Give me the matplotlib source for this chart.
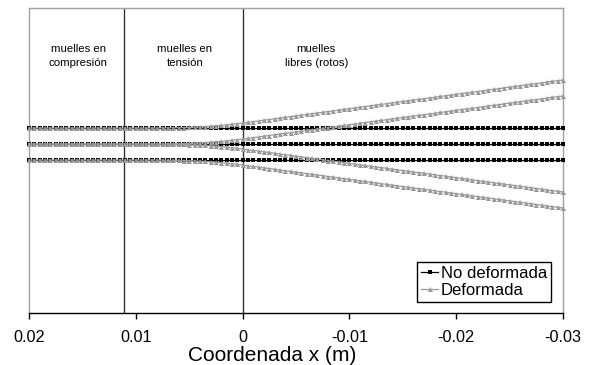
import numpy as np
import matplotlib
matplotlib.use("Agg")
import matplotlib.pyplot as plt
import matplotlib.transforms as mtransforms

plt.rcParams['font.family'] = ['Liberation Sans', 'DejaVu Sans']

# node positions along the beam (m), 0.5 mm apart
x_nodes = np.linspace(0.02, -0.03, 101)

# undeformed fibres (top, middle, bottom)
y_levels = [1.0, 0.0, -1.0]

# deflection, same units as y_levels
deflection = [
    0.00, 0.00, 0.00, 0.00, 0.00, 0.00, 0.00, 0.00, 0.00, 0.00,
    0.00, 0.00, 0.00, 0.00, 0.00, 0.00, 0.00, 0.00, 0.00, 0.00,
    0.00, 0.00, 0.00, 0.00, 0.00, 0.01, 0.01, 0.02, 0.02, 0.03,
    0.04, 0.06, 0.07, 0.09, 0.11, 0.14, 0.16, 0.19, 0.23, 0.27,
    0.31, 0.35, 0.40, 0.44, 0.49, 0.53, 0.58, 0.62, 0.67, 0.71,
    0.76, 0.80, 0.85, 0.89, 0.94, 0.98, 1.03, 1.07, 1.12, 1.16,
    1.21, 1.25, 1.30, 1.34, 1.39, 1.43, 1.48, 1.52, 1.57, 1.61,
    1.66, 1.70, 1.75, 1.79, 1.83, 1.88, 1.92, 1.97, 2.01, 2.06,
    2.10, 2.15, 2.19, 2.24, 2.28, 2.33, 2.37, 2.42, 2.46, 2.51,
    2.55, 2.60, 2.64, 2.69, 2.73, 2.78, 2.82, 2.87, 2.91, 2.96,
    3.00,
]

# deformed fibres: base level and direction (+1 up, -1 down)
deformed_base = [1.0, 0.0, 0.0, -1.0]
deformed_sign = [1, 1, -1, -1]

# zone boundaries (m) and zone labels
zone_lines = [0.0111, 0.0]
zone_text_x = [0.0154, 0.0054, -0.0069]
zone_texts = ["muelles en\ncompresión", "muelles en\ntensión", "muelles\nlibres (rotos)"]

xticks = [0.02, 0.01, 0.0, -0.01, -0.02, -0.03]
xtick_labels = ["0.02", "0.01", "0", "-0.01", "-0.02", "-0.03"]

gray = '#999999'

fig = plt.figure(figsize=(5.92, 3.65), dpi=100)
ax = fig.add_axes([29 / 592, 52 / 365, 534 / 592, 305 / 365])

d = np.array(deflection)
for i, y0 in enumerate(y_levels):
    ax.plot(x_nodes, np.full_like(x_nodes, y0), color='black', lw=0.9,
            marker='s', ms=2.7, mew=0, clip_on=False, zorder=3,
            label='No deformada' if i == 0 else None)
for i, (y0, sg) in enumerate(zip(deformed_base, deformed_sign)):
    ax.plot(x_nodes, y0 + sg * d, color=gray, lw=0.9,
            marker='^', ms=3.6, mew=0, clip_on=False, zorder=4,
            label='Deformada' if i == 0 else None)

for xv in zone_lines:
    ax.axvline(xv, color='#333333', lw=1.0, zorder=2)

trans = mtransforms.blended_transform_factory(ax.transData, ax.transAxes)
for xv, txt in zip(zone_text_x, zone_texts):
    ax.text(xv, 0.843, txt, transform=trans, ha='center', va='center',
            fontsize=8.2, linespacing=1.5)

ax.set_xlim(0.02, -0.03)
ax.set_ylim(-10.56, 8.5)
ax.set_yticks([])
ax.set_xticks(xticks)
ax.set_xticklabels(xtick_labels, fontsize=11.7)
ax.tick_params(axis='x', direction='out', length=4, width=1, pad=8.5)

for side in ['left', 'top', 'right']:
    ax.spines[side].set_color('#a0a0a0')
    ax.spines[side].set_linewidth(1)
ax.spines['bottom'].set_color('black')
ax.spines['bottom'].set_linewidth(1)

ax.set_xlabel('Coordenada x (m)', fontsize=15)
ax.xaxis.set_label_coords(0.4545, -0.109)

leg = ax.legend(loc='lower right', bbox_to_anchor=(0.9775, 0.037),
                borderaxespad=0, fontsize=12, frameon=True, fancybox=False,
                handlelength=1.0, handletextpad=0.15, borderpad=0.25,
                labelspacing=0.1)
leg.get_frame().set_edgecolor('black')
leg.get_frame().set_linewidth(1)
leg.get_frame().set_alpha(1)

fig.savefig('out.png', dpi=100)
